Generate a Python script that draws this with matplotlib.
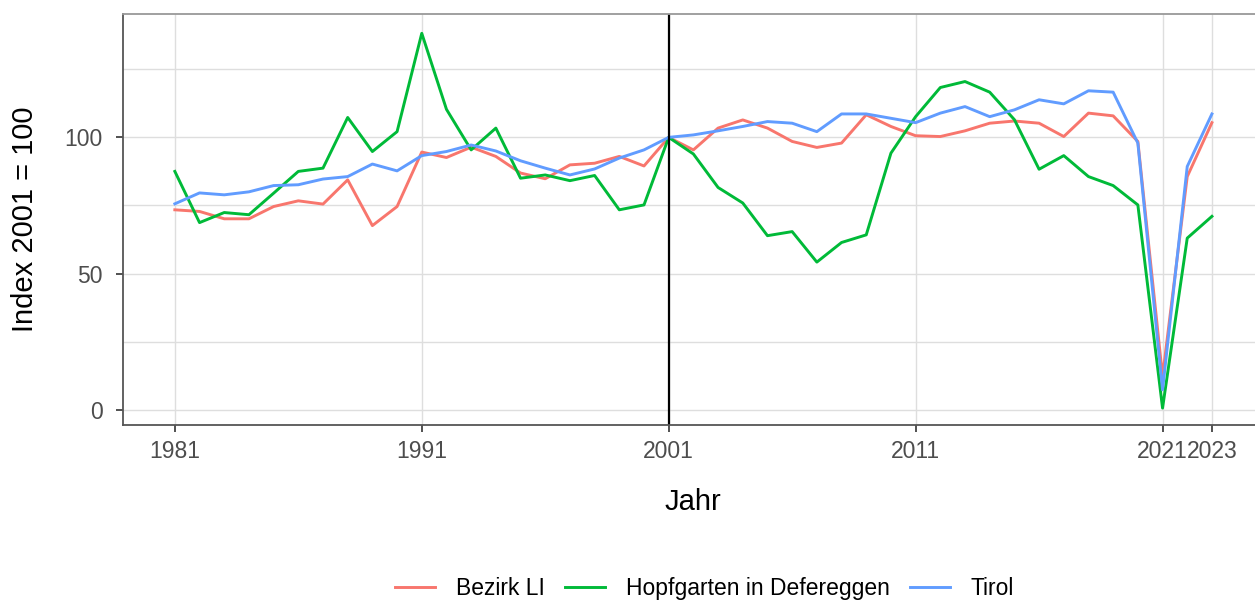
import matplotlib
matplotlib.use("Agg")
from matplotlib import pyplot as plt
from matplotlib.ticker import MultipleLocator

years = list(range(1981, 2024))

bezirk = [73.4, 72.8, 70.1, 70.1, 74.6, 76.7, 75.5, 84.4, 67.6, 74.6,
          94.6, 92.6, 96.4, 93.0, 86.9, 84.8, 89.9, 90.5, 93.0, 89.5,
          100.0, 95.4, 103.4, 106.4, 103.4, 98.5, 96.3, 97.9, 108.3, 104.0,
          100.6, 100.3, 102.4, 105.2, 106.0, 105.2, 100.3, 108.9, 107.9, 98.5,
          12.2, 85.6, 105.4]

hopfgarten = [87.5, 68.7, 72.4, 71.6, 79.5, 87.5, 88.7, 107.3, 94.8, 102.1,
              138.2, 110.3, 95.4, 103.4, 85.0, 86.2, 84.1, 86.0, 73.4, 75.2,
              100.0, 93.9, 81.6, 75.9, 63.9, 65.4, 54.2, 61.4, 64.2, 94.2,
              107.6, 118.3, 120.5, 116.6, 106.5, 88.3, 93.3, 85.6, 82.3, 75.2,
              0.6, 63.0, 71.0]

tirol = [75.6, 79.6, 78.9, 80.0, 82.3, 82.6, 84.7, 85.6, 90.2, 87.7,
         93.3, 94.8, 97.2, 95.0, 91.4, 88.7, 86.2, 88.4, 92.4, 95.4,
         100.0, 100.9, 102.4, 104.0, 105.8, 105.2, 102.1, 108.6, 108.6, 107.0,
         105.4, 108.9, 111.3, 107.6, 110.1, 113.8, 112.3, 117.1, 116.6, 97.9,
         7.3, 89.3, 108.6]

x_ticks = [1981, 1991, 2001, 2011, 2021, 2023]

plt.rcParams["font.family"] = ["Liberation Sans", "DejaVu Sans"]

fig = plt.figure(figsize=(12.55, 6), dpi=100)
# Panel reicht etwas über den rechten Bildrand hinaus
ax = fig.add_axes([0.098, 0.2917, 0.909, 0.685])

# Gitterlinien
ax.yaxis.set_major_locator(MultipleLocator(50))
ax.yaxis.set_minor_locator(MultipleLocator(25))
ax.set_xticks(x_ticks)
ax.grid(True, which="both", axis="y", color="#dedede", linewidth=1)
ax.grid(True, which="major", axis="x", color="#dedede", linewidth=1)
ax.set_axisbelow(True)

ax.plot(years, bezirk, color="#F8766D", linewidth=2.1, label="Bezirk LI")
ax.plot(years, hopfgarten, color="#00BA38", linewidth=2.1, label="Hopfgarten in Defereggen")
ax.plot(years, tirol, color="#619CFF", linewidth=2.1, label="Tirol")
ax.axvline(2001, color="black", linewidth=1.6)

ax.set_xlim(1978.9, 2025.1)
ax.set_ylim(-5.6, 145.3)

for side in ["left", "bottom"]:
    ax.spines[side].set_color("#555555")
    ax.spines[side].set_linewidth(1.3)
ax.spines["top"].set_color("#999999")
ax.spines["top"].set_linewidth(1.3)
ax.spines["right"].set_visible(False)

ax.tick_params(axis="both", which="major", length=5, width=1.2, color="#333333",
               labelcolor="#4d4d4d", labelsize=16.5)
ax.tick_params(axis="x", which="major", pad=5.5)
ax.tick_params(axis="y", which="major", pad=9.7)
ax.tick_params(axis="both", which="minor", length=0)

ax.set_xlabel("Jahr", fontsize=21, labelpad=18)
ax.set_ylabel("Index 2001 = 100", fontsize=21, labelpad=18)

fig.legend(loc="lower center", bbox_to_anchor=(0.5614, -0.034), ncol=3, frameon=False,
           fontsize=16.5, handlelength=1.75, handletextpad=0.9, columnspacing=0.9)

fig.savefig("out.png", dpi=100)
